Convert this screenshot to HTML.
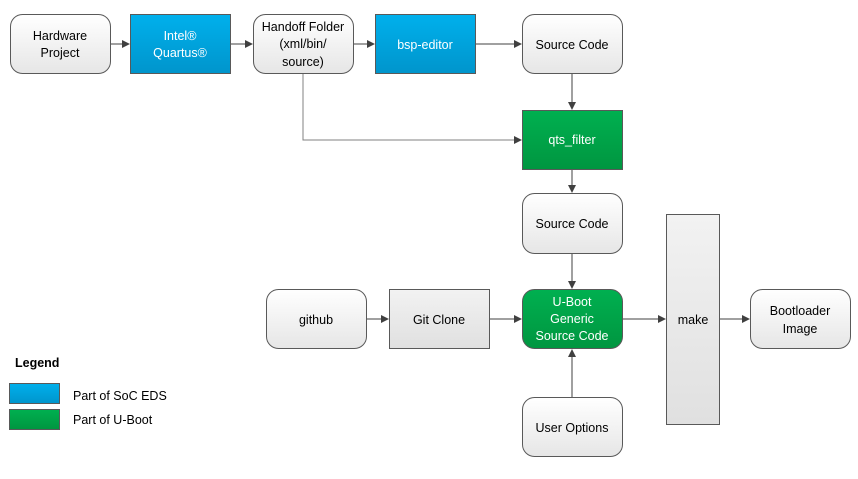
<!DOCTYPE html>
<html><head><meta charset="utf-8"><style>
html,body{margin:0;padding:0;background:#fff;}
text{font-family:"Liberation Sans",sans-serif;font-size:12.5px;}
</style></head><body>
<svg width="858" height="474" viewBox="0 0 858 474" xmlns="http://www.w3.org/2000/svg">
<defs>
<linearGradient id="w" x1="0" y1="0" x2="0" y2="1"><stop offset="0" stop-color="#ffffff"/><stop offset="1" stop-color="#e6e6e6"/></linearGradient>
<linearGradient id="b" x1="0" y1="0" x2="0" y2="1"><stop offset="0" stop-color="#00b0ec"/><stop offset="1" stop-color="#0095cc"/></linearGradient>
<linearGradient id="g" x1="0" y1="0" x2="0" y2="1"><stop offset="0" stop-color="#00b050"/><stop offset="1" stop-color="#009640"/></linearGradient>
<linearGradient id="gr" x1="0" y1="0" x2="0" y2="1"><stop offset="0" stop-color="#f2f2f2"/><stop offset="1" stop-color="#e0e0e0"/></linearGradient>
<marker id="a" markerWidth="8" markerHeight="8" refX="7" refY="4" orient="auto" markerUnits="userSpaceOnUse"><path d="M0,0 L8,4 L0,8 z" fill="#404040"/></marker>
</defs>
<g stroke="#595959" stroke-width="1">
<rect x="10.5" y="14.5" width="100" height="59" rx="12" fill="url(#w)"/>
<rect x="130.5" y="14.5" width="100" height="59" fill="url(#b)"/>
<rect x="253.5" y="14.5" width="100" height="59" rx="12" fill="url(#w)"/>
<rect x="375.5" y="14.5" width="100" height="59" fill="url(#b)"/>
<rect x="522.5" y="14.5" width="100" height="59" rx="12" fill="url(#w)"/>
<rect x="522.5" y="110.5" width="100" height="59" fill="url(#g)"/>
<rect x="522.5" y="193.5" width="100" height="60" rx="12" fill="url(#w)"/>
<rect x="522.5" y="289.5" width="100" height="59" rx="12" fill="url(#g)"/>
<rect x="522.5" y="397.5" width="100" height="59" rx="12" fill="url(#w)"/>
<rect x="666.5" y="214.5" width="53" height="210" fill="url(#gr)"/>
<rect x="750.5" y="289.5" width="100" height="59" rx="12" fill="url(#w)"/>
<rect x="266.5" y="289.5" width="100" height="59" rx="12" fill="url(#w)"/>
<rect x="389.5" y="289.5" width="100" height="59" fill="url(#gr)"/>
<rect x="9.5" y="383.5" width="50" height="20" fill="url(#b)"/>
<rect x="9.5" y="409.5" width="50" height="20" fill="url(#g)"/>
</g>
<g stroke="#404040" stroke-width="1" fill="none" marker-end="url(#a)">
<path d="M111,44 H129"/>
<path d="M231,44 H252"/>
<path d="M354,44 H374"/>
<path d="M476,44 H521"/>
<path d="M572,74 V109"/>
<path d="M303,74 V140 H521" stroke="#808080"/>
<path d="M572,170 V192"/>
<path d="M572,254 V288"/>
<path d="M367,319 H388"/>
<path d="M490,319 H521"/>
<path d="M572,397 V350"/>
<path d="M623,319 H665"/>
<path d="M720,319 H749"/>
</g>
<g text-anchor="middle" fill="#000">
<text x="60" y="40">Hardware</text><text x="60" y="57">Project</text>
<text x="180" y="40" fill="#fff">Intel®</text><text x="180" y="57" fill="#fff">Quartus®</text>
<text x="303" y="31">Handoff Folder</text><text x="303" y="48">(xml/bin/</text><text x="303" y="66">source)</text>
<text x="425" y="49" fill="#fff">bsp-editor</text>
<text x="572" y="49">Source Code</text>
<text x="572" y="144" fill="#fff">qts_filter</text>
<text x="572" y="228">Source Code</text>
<text x="572" y="306" fill="#fff">U-Boot</text><text x="572" y="323" fill="#fff">Generic</text><text x="572" y="340" fill="#fff">Source Code</text>
<text x="572" y="432">User Options</text>
<text x="693" y="324">make</text>
<text x="800" y="315">Bootloader</text><text x="800" y="333">Image</text>
<text x="316" y="324">github</text>
<text x="439" y="324">Git Clone</text>
</g>
<text x="15" y="367" font-weight="bold">Legend</text>
<text x="73" y="400">Part of SoC EDS</text>
<text x="73" y="424">Part of U-Boot</text>
</svg>
</body></html>
